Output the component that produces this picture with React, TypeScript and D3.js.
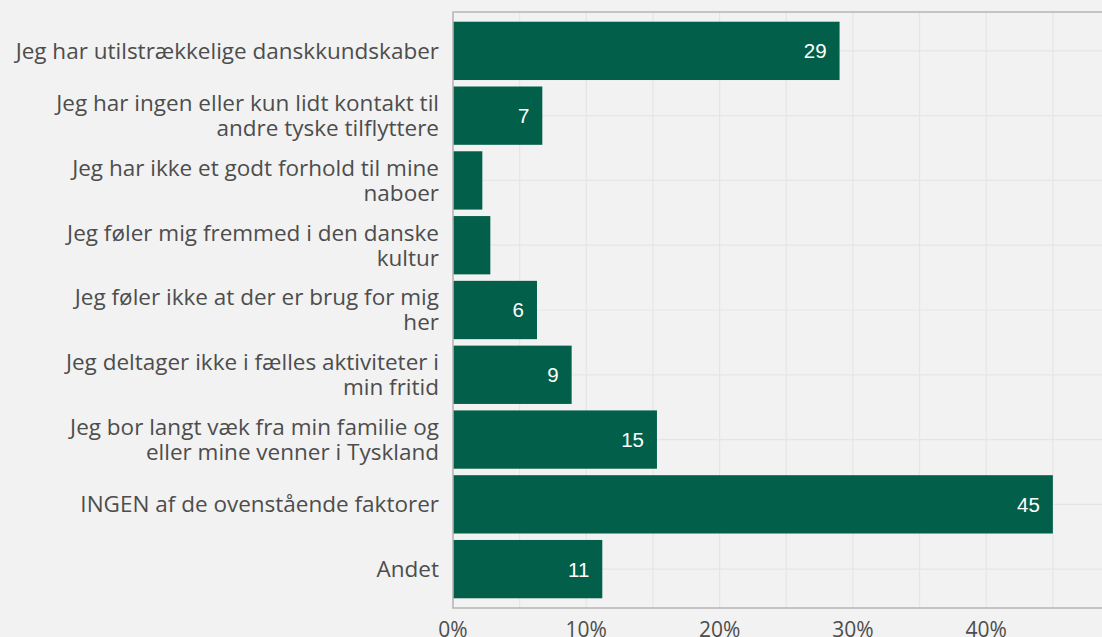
import React, { useEffect, useRef } from "react";
import * as d3 from "d3";

const categories = [
	["Jeg har utilstrækkelige danskkundskaber"],
	["Jeg har ingen eller kun lidt kontakt til", "andre tyske tilflyttere"],
	["Jeg har ikke et godt forhold til mine", "naboer"],
	["Jeg føler mig fremmed i den danske", "kultur"],
	["Jeg føler ikke at der er brug for mig", "her"],
	["Jeg deltager ikke i fælles aktiviteter i", "min fritid"],
	["Jeg bor langt væk fra min familie og", "eller mine venner i Tyskland"],
	["INGEN af de ovenstående faktorer"],
	["Andet"],
];
const values = [29.0, 6.7, 2.2, 2.8, 6.3, 8.9, 15.3, 45.0, 11.2];
const barLabels = ["29", "7", null, null, "6", "9", "15", "45", "11"];
const xTicks = [0, 10, 20, 30, 40];
const xMinor = [5, 15, 25, 35, 45];

const W = 1102;
const H = 637;

export default function App() {
	const ref = useRef(null);

	useEffect(() => {
		const svg = d3.select(ref.current);
		svg.selectAll("*").remove();

		const left = 453, top = 12, bottom = 608;
		const x = d3.scaleLinear().domain([0, 50]).range([left, left + 666.5]);
		const y = d3
			.scaleBand()
			.domain(d3.range(categories.length).map(String))
			.range([top, bottom])
			.paddingInner(0.1)
			.paddingOuter(0.15);

		svg.append("rect").attr("width", W).attr("height", H).attr("fill", "#f2f2f2");

		const grid = svg.append("g").attr("stroke", "#e5e5e5").attr("stroke-width", 1.2);
		xMinor.concat(xTicks).forEach((t) => {
			grid.append("line")
				.attr("x1", x(t)).attr("x2", x(t))
				.attr("y1", top).attr("y2", bottom);
		});
		categories.forEach((_, i) => {
			const cy = y(String(i)) + y.bandwidth() / 2;
			grid.append("line")
				.attr("x1", left).attr("x2", W)
				.attr("y1", cy).attr("y2", cy);
		});

		svg.append("g")
			.selectAll("rect")
			.data(values)
			.join("rect")
			.attr("x", x(0))
			.attr("y", (_, i) => y(String(i)))
			.attr("width", (d) => x(d) - x(0))
			.attr("height", y.bandwidth())
			.attr("fill", "#025f4a");

		svg.append("g")
			.selectAll("text")
			.data(values)
			.join("text")
			.attr("x", (d) => x(d) - 13)
			.attr("y", (_, i) => y(String(i)) + y.bandwidth() / 2)
			.attr("dy", "0.36em")
			.attr("text-anchor", "end")
			.attr("fill", "white")
			.attr("font-family", "Liberation Sans, Arial, sans-serif")
			.attr("font-size", 20.5)
			.text((_, i) => barLabels[i] ?? "");

		// panel border
		const border = svg.append("g").attr("stroke", "#b5b5b5").attr("stroke-width", 1.5).attr("fill", "none");
		border.append("path").attr("d", `M${W},${top}H${left}V${bottom}H${W}`);

		// category labels
		const yl = svg.append("g")
			.attr("font-family", "Open Sans, sans-serif")
			.attr("font-size", 22.5)
			.attr("fill", "#4d4d4d")
			.attr("text-anchor", "end");
		categories.forEach((lines, i) => {
			const cy = y(String(i)) + y.bandwidth() / 2;
			const lh = 25;
			lines.forEach((ln, j) => {
				yl.append("text")
					.attr("x", 439)
					.attr("y", cy + (j - (lines.length - 1) / 2) * lh)
					.attr("dy", "0.35em")
					.text(ln);
			});
		});

		// x tick labels
		svg.append("g")
			.attr("font-family", "Open Sans, sans-serif")
			.attr("font-size", 21)
			.attr("fill", "#4d4d4d")
			.attr("text-anchor", "middle")
			.selectAll("text")
			.data(xTicks)
			.join("text")
			.attr("x", (d) => x(d))
			.attr("y", 637)
			.text((d) => d + "%");
	}, []);

	return (
		<div style={{ position: "fixed", left: 0, top: 0 }}>
			<svg ref={ref} width={W} height={H} style={{ display: "block" }} />
		</div>
	);
}
